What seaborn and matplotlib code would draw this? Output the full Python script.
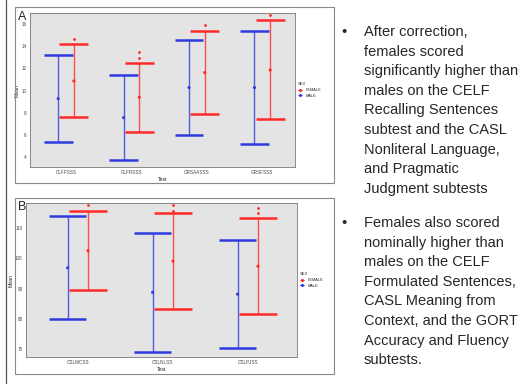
import matplotlib
matplotlib.use("Agg")
from matplotlib import pyplot as plt
from matplotlib.lines import Line2D
from matplotlib.patches import Rectangle
import pandas as pd
import seaborn as sns

# panel A: CELF / GORT subtests
tests_a = ["CLFFSSS", "CLFRSSS", "GRSAASSS", "GRSFSSS"]
male_mean_a = [9.27, 7.56, 10.27, 10.27]
male_lo_a = [5.34, 3.72, 5.98, 5.14]
male_hi_a = [13.2, 11.43, 14.56, 15.37]
female_mean_a = [10.86, 9.4, 11.62, 11.86]
female_lo_a = [7.65, 6.27, 7.87, 7.45]
female_hi_a = [14.17, 12.51, 15.37, 16.33]
female_out_test_a = ["CLFFSSS", "CLFRSSS", "CLFRSSS", "GRSAASSS", "GRSFSSS"]
female_out_a = [14.68, 13.48, 12.91, 15.94, 16.81]

# panel B: CASL subtests
tests_b = ["CSLMCSS", "CSLNLSS", "CSLPJSS"]
male_mean_b = [96.85, 88.8, 88.2]
male_lo_b = [79.9, 69.2, 70.55]
male_hi_b = [113.98, 108.45, 106.1]
female_mean_b = [102.5, 99.06, 97.4]
female_lo_b = [89.45, 83.4, 81.5]
female_hi_b = [115.6, 114.75, 113.1]
female_out_test_b = ["CSLMCSS", "CSLNLSS", "CSLNLSS", "CSLPJSS", "CSLPJSS"]
female_out_b = [117.5, 117.5, 115.6, 116.6, 115.0]

RED = "#ff2a2a"
BLUE = "#2f3be0"
palette = {"FEMALE": RED, "MALE": BLUE}
dodge = {"FEMALE": 0.12, "MALE": -0.12}


def make_df(tests, m_mean, m_lo, m_hi, f_mean, f_lo, f_hi):
    male = pd.DataFrame({"Test": tests, "SEX": "MALE", "Mean": m_mean, "lo": m_lo, "hi": m_hi})
    female = pd.DataFrame({"Test": tests, "SEX": "FEMALE", "Mean": f_mean, "lo": f_lo, "hi": f_hi})
    df = pd.concat([female, male], ignore_index=True)
    df["x"] = pd.Categorical(df["Test"], categories=tests).codes + df["SEX"].map(dodge)
    return df


def draw_panel(ax, df, tests, out_test, out_vals, yticks, ylim, xlim):
    ax.set_facecolor("#e4e4e4")
    for sex, grp in df.groupby("SEX"):
        c = palette[sex]
        ax.vlines(grp["x"], grp["lo"], grp["hi"], color=c, lw=1.0, alpha=0.8)
        ax.hlines(grp["lo"], grp["x"] - 0.22, grp["x"] + 0.22, color=c, lw=1.8)
        ax.hlines(grp["hi"], grp["x"] - 0.22, grp["x"] + 0.22, color=c, lw=1.8)
    sns.scatterplot(data=df, x="x", y="Mean", hue="SEX", palette=palette, s=5,
                    linewidth=0, ax=ax, legend=False)
    outs = pd.DataFrame({"Test": out_test, "val": out_vals})
    outs["x"] = pd.Categorical(outs["Test"], categories=tests).codes + dodge["FEMALE"]
    sns.scatterplot(data=outs, x="x", y="val", color=RED, s=4, linewidth=0, ax=ax)
    ax.set_xticks(range(len(tests)))
    ax.set_xticklabels(tests)
    ax.set_yticks(yticks)
    ax.set_xlim(xlim)
    ax.set_ylim(ylim)
    ax.set_xlabel("Test", fontsize=3.8, labelpad=1)
    ax.set_ylabel("Mean", fontsize=3.8, labelpad=1)
    ax.tick_params(labelsize=3.3, length=1.5, width=0.4, pad=1, colors="#444444")
    for s in ax.spines.values():
        s.set_color("#777777")
        s.set_linewidth(0.6)
    handles = [Line2D([], [], color=RED, marker="o", ms=1.2, lw=0.6),
               Line2D([], [], color=BLUE, marker="o", ms=1.2, lw=0.6)]
    ax.legend(handles, ["FEMALE", "MALE"], title="SEX", loc="center left",
              bbox_to_anchor=(1.0, 0.5), frameon=False, fontsize=2.8,
              title_fontsize=3.0, handlelength=1.2, borderaxespad=0.3,
              labelspacing=0.4, alignment="left")


df_a = make_df(tests_a, male_mean_a, male_lo_a, male_hi_a, female_mean_a, female_lo_a, female_hi_a)
df_b = make_df(tests_b, male_mean_b, male_lo_b, male_hi_b, female_mean_b, female_lo_b, female_hi_b)

sns.set_style("white")
plt.rcParams["font.family"] = ["Liberation Sans", "DejaVu Sans"]

fig = plt.figure(figsize=(5.2, 3.87), dpi=100)
W, H = 520, 387


def fx(px):
    return px / W


def fy(py):
    return 1 - py / H


# slide decorations: outer frames of the pasted figures and left rule
for top, bot in [(7, 183), (198, 374)]:
    fig.patches.append(Rectangle((fx(15), fy(bot)), fx(334) - fx(15), fy(top) - fy(bot),
                                 transform=fig.transFigure, fill=False, ec="#8a8a8a", lw=0.8))
fig.lines.append(Line2D([fx(6), fx(6)], [fy(0), fy(383)], transform=fig.transFigure,
                        color="#555555", lw=0.9))

ax_a = fig.add_axes([fx(30), fy(167), fx(295) - fx(30), fy(13) - fy(167)])
draw_panel(ax_a, df_a, tests_a, female_out_test_a, female_out_a,
           [4, 6, 8, 10, 12, 14, 16], (3.1, 17.0), (-0.55, 3.5))
ax_b = fig.add_axes([fx(26), fy(357), fx(297) - fx(26), fy(203) - fy(357)])
draw_panel(ax_b, df_b, tests_b, female_out_test_b, female_out_b,
           [70, 80, 90, 100, 110], (67.5, 118.2), (-0.61, 2.58))

fig.text(fx(18), fy(17), "A", fontsize=9, va="center", ha="left")
fig.text(fx(18), fy(207), "B", fontsize=9, va="center", ha="left")

bullet1 = ["After correction,", "females scored", "significantly higher than",
           "males on the CELF", "Recalling Sentences", "subtest and the CASL",
           "Nonliteral Language,", "and Pragmatic", "Judgment subtests"]
bullet2 = ["Females also scored", "nominally higher than", "males on the CELF",
           "Formulated Sentences,", "CASL Meaning from", "Context, and the GORT",
           "Accuracy and Fluency", "subtests."]
step = 19.6
fs = 10.5
for i, line in enumerate(bullet1):
    fig.text(fx(364), fy(32 + i * step), line, fontsize=fs, va="center", ha="left")
for i, line in enumerate(bullet2):
    fig.text(fx(364), fy(223 + i * step), line, fontsize=fs, va="center", ha="left")
fig.text(fx(341), fy(32), "\u2022", fontsize=fs, va="center", ha="left")
fig.text(fx(341), fy(223), "\u2022", fontsize=fs, va="center", ha="left")

fig.savefig("out.png", dpi=100)
